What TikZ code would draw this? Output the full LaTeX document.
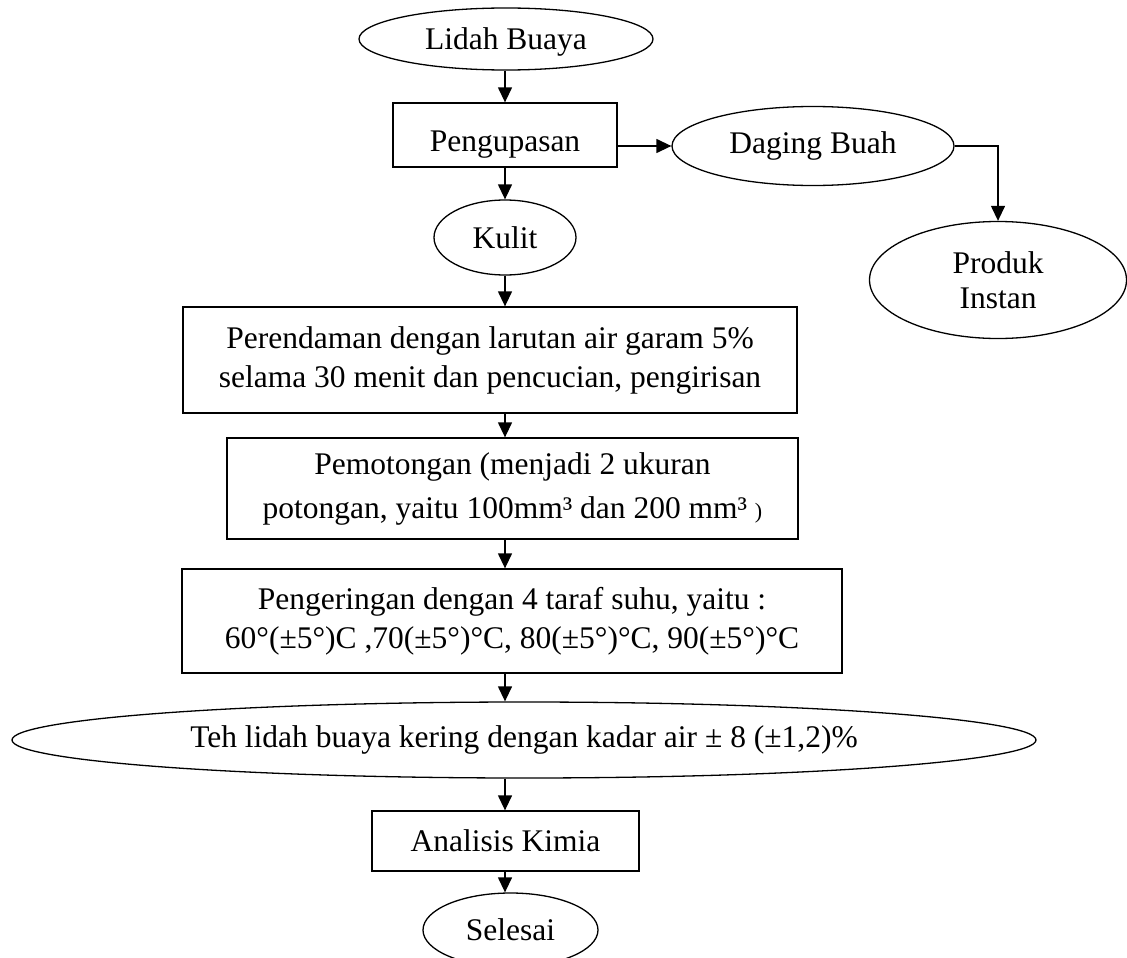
\documentclass[tikz,border=0pt]{standalone}
\usepackage{fontspec}
\setmainfont{Liberation Serif}
\usetikzlibrary{shapes.geometric,arrows.meta}
\tikzset{
  txt/.style={font=\fontsize{31.5}{39}\selectfont, align=center, inner sep=0pt},
  box/.style={txt, draw, line width=1.3pt, rectangle},
  oval/.style={txt, draw, line width=1.3pt, ellipse},
  arr/.style={line width=1.3pt, -{Triangle[length=15pt,width=14pt]}},
}
\begin{document}
\begin{tikzpicture}[x=1pt,y=-1pt]
\useasboundingbox (0,0) rectangle (1127,958);
\clip (0,0) rectangle (1127,958);
\coordinate (axis) at (505,0);
\node[oval, minimum width=294pt, minimum height=62pt] (lidah) at (506,39) {\raisebox{-3pt}[22pt][7pt]{Lidah Buaya}};
\node[box, minimum width=224pt, minimum height=64pt] (peng) at (505,135) {\raisebox{-9pt}[22pt][7pt]{Pengupasan}};
\node[oval, minimum width=142pt, minimum height=75pt] (kulit) at (505,237.5) {Kulit};
\node[oval, minimum width=282pt, minimum height=79pt] (daging) at (813,146) {Daging Buah};
\node[oval, minimum width=257pt, minimum height=117pt] (prod) at (998,280) {Produk\\[-4pt]Instan};
\node[box, minimum width=614pt, minimum height=106pt] (peren) at (490,360) {Perendaman dengan larutan air garam 5\%\\selama 30 menit dan pencucian, pengirisan};
\node[box, minimum width=571pt, minimum height=101pt] (pemot) at (512.5,488.5) {Pemotongan (menjadi 2 ukuran\\[5pt]potongan, yaitu 100mm³ dan 200 mm³ {\fontsize{22}{22}\selectfont)}};
\node[box, minimum width=660pt, minimum height=104pt] (penge) at (512,621) {Pengeringan dengan 4 taraf suhu, yaitu :\\60°(±5°)C ,70(±5°)°C, 80(±5°)°C, 90(±5°)°C};
\node[oval, minimum width=1024pt, minimum height=76pt] (teh) at (524,740) {Teh lidah buaya kering dengan kadar air ± 8 (±1,2)\%};
\node[box, minimum width=267pt, minimum height=60pt] (anal) at (505.5,841) {Analisis Kimia};
\node[oval, minimum width=175pt, minimum height=74pt] (sel) at (510.5,930) {Selesai};

\draw[arr] (lidah.south -| axis) -- (peng.north -| axis);
\draw[arr] (peng.south -| axis) -- (kulit.north -| axis);
\draw[arr] (peng.east |- daging.west) -- (daging.west);
\draw[arr] (daging.east) -| (prod.north);
\draw[arr] (kulit.south -| axis) -- (peren.north -| axis);
\draw[arr] (peren.south -| axis) -- (pemot.north -| axis);
\draw[arr] (pemot.south -| axis) -- (penge.north -| axis);
\draw[arr] (penge.south -| axis) -- (teh.north -| axis);
\draw[arr] (teh.south -| axis) -- (anal.north -| axis);
\draw[arr] (anal.south -| axis) -- (sel.north -| axis);
\end{tikzpicture}
\end{document}
